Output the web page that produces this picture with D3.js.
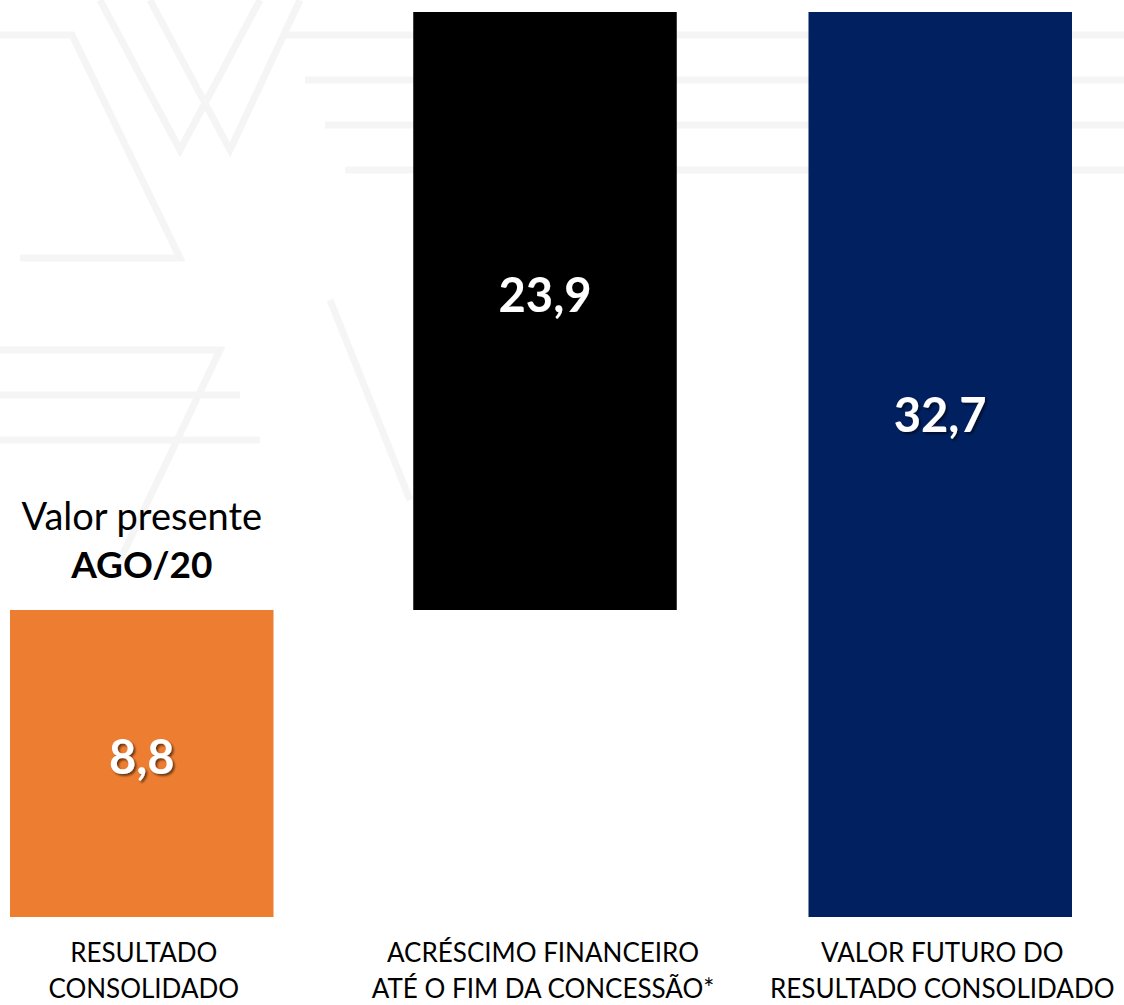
<!DOCTYPE html>
<html>
<head>
<meta charset="utf-8">
<script src="https://cdn.jsdelivr.net/npm/d3@7"></script>
<style>
  body { margin: 0; background: #fff; }
  svg { display: block; }
</style>
</head>
<body>
<div class="chart"></div>
<script>
// data
var categories = ["RESULTADO|CONSOLIDADO", "ACRÉSCIMO FINANCEIRO|ATÉ O FIM DA CONCESSÃO*", "VALOR FUTURO DO|RESULTADO CONSOLIDADO"];
var starts = [0, 8.8, 0];
var ends = [8.8, 32.7, 32.7];
var labels = ["8,8", "23,9", "32,7"];
var colors = ["#ED7D31", "#000000", "#002060"];

var width = 1124, height = 1005;
var font = "Lato, 'Open Sans', sans-serif";

var svg = d3.select(".chart").append("svg")
    .attr("width", width)
    .attr("height", height);

// very faint background pattern (chevrons)
var bg = svg.append("g")
    .attr("fill", "none")
    .attr("stroke", "#f5f5f5")
    .attr("stroke-width", 7);
var chev = [[0, 35, 72, 35, 180, 258, 20, 258], [100, 0, 180, 150, 260, 0],
            [150, 0, 230, 150, 300, 0], [285, 35, 1124, 35], [305, 80, 1124, 80], [325, 125, 1124, 125],
            [345, 170, 1124, 170], [0, 350, 220, 350, 120, 560], [0, 395, 240, 395],
            [0, 440, 260, 440], [330, 300, 410, 500]];
chev.forEach(function(p) {
  var pts = d3.range(0, p.length, 2).map(function(i) { return [p[i], p[i + 1]]; });
  bg.append("path").attr("d", d3.line()(pts));
});

var x = d3.scaleBand()
    .domain(categories)
    .range([10, 1072])
    .paddingInner(0.34);

var y = d3.scaleLinear()
    .domain([-3.47, 32.7])
    .range([917, 12]);

var base = function(i) { return i === 1 ? starts[i] : y.domain()[0]; };
// middle bar sits a little right of its band slot in the original
var nudge = function(i) { return i === 1 ? 4 : 0; };

svg.selectAll(".bar")
    .data(categories)
  .enter().append("rect")
    .attr("class", "bar")
    .attr("x", function(d, i) { return x(d) + nudge(i); })
    .attr("width", x.bandwidth())
    .attr("y", function(d, i) { return y(ends[i]); })
    .attr("height", function(d, i) { return y(base(i)) - y(ends[i]); })
    .attr("fill", function(d, i) { return colors[i]; });

// shadow for labels
var defs = svg.append("defs");
var f = defs.append("filter").attr("id", "sh").attr("x", "-20%").attr("y", "-20%").attr("width", "140%").attr("height", "140%");
f.append("feDropShadow").attr("dx", 2).attr("dy", 2).attr("stdDeviation", 1.2)
    .attr("flood-color", "#000").attr("flood-opacity", 0.55);

var labelShift = [-6, -16, -49];
svg.selectAll(".val")
    .data(labels)
  .enter().append("text")
    .attr("class", "val")
    .attr("x", function(d, i) { return x(categories[i]) + nudge(i) + x.bandwidth() / 2; })
    .attr("y", function(d, i) { return (y(base(i)) + y(ends[i])) / 2 + labelShift[i]; })
    .attr("dy", "0.36em")
    .attr("text-anchor", "middle")
    .attr("fill", "#fff")
    .attr("font-family", font)
    .attr("font-weight", "bold")
    .attr("font-size", 47)
    .attr("filter", "url(#sh)")
    .text(function(d) { return d; });

// category labels
svg.selectAll(".cat")
    .data(categories)
  .enter().append("text")
    .attr("class", "cat")
    .attr("text-anchor", "middle")
    .attr("font-family", font)
    .attr("font-size", 26)
    .attr("fill", "#000")
    .each(function(d, i) {
      var t = d3.select(this);
      d.split("|").forEach(function(line, j) {
        t.append("tspan")
          .attr("x", x(d) + x.bandwidth() / 2 + 2)
          .attr("y", 962 + j * 36)
          .text(line);
      });
    });

// annotation above first bar
var cx = x(categories[0]) + x.bandwidth() / 2;
svg.append("text")
    .attr("x", cx).attr("y", 530)
    .attr("text-anchor", "middle")
    .attr("font-family", font)
    .attr("font-size", 38)
    .text("Valor presente");
svg.append("text")
    .attr("x", cx).attr("y", 578)
    .attr("text-anchor", "middle")
    .attr("font-family", font)
    .attr("font-weight", "bold")
    .attr("font-size", 37)
    .text("AGO/20");
</script>
</body>
</html>
